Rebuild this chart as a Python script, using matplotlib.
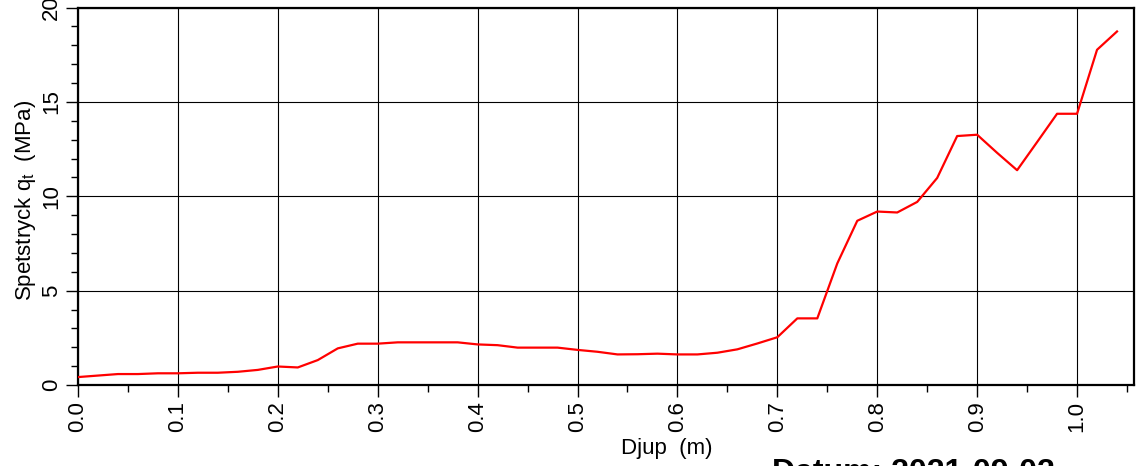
import matplotlib
matplotlib.use("Agg")
import matplotlib.pyplot as plt
from matplotlib.ticker import MultipleLocator, FormatStrFormatter

plt.rcParams['font.family'] = ['Liberation Sans', 'DejaVu Sans']
plt.rcParams['mathtext.fontset'] = 'custom'
plt.rcParams['mathtext.rm'] = 'Liberation Sans'

depth = [0.00, 0.02, 0.04, 0.06, 0.08, 0.10, 0.12, 0.14, 0.16, 0.18,
         0.20, 0.22, 0.24, 0.26, 0.28, 0.30, 0.32, 0.34, 0.36, 0.38,
         0.40, 0.42, 0.44, 0.46, 0.48, 0.50, 0.52, 0.54, 0.56, 0.58,
         0.60, 0.62, 0.64, 0.66, 0.68, 0.70, 0.72, 0.74, 0.76, 0.78,
         0.80, 0.82, 0.84, 0.86, 0.88, 0.90, 0.92, 0.94, 0.96, 0.98,
         1.00, 1.02, 1.04]
qt = [0.42, 0.50, 0.58, 0.58, 0.62, 0.62, 0.65, 0.65, 0.70, 0.80,
      0.98, 0.93, 1.32, 1.94, 2.19, 2.19, 2.26, 2.26, 2.26, 2.26,
      2.15, 2.11, 1.98, 1.98, 1.98, 1.86, 1.76, 1.62, 1.63, 1.66,
      1.62, 1.62, 1.71, 1.89, 2.20, 2.53, 3.53, 3.53, 6.44, 8.70,
      9.19, 9.14, 9.70, 10.97, 13.19, 13.26, 12.30, 11.38, 12.87, 14.37,
      14.37, 17.76, 18.73]

xticks = [0.0, 0.1, 0.2, 0.3, 0.4, 0.5, 0.6, 0.7, 0.8, 0.9, 1.0]
yticks = [0, 5, 10, 15, 20]

W, H = 1138, 466
fig = plt.figure(figsize=(W / 100, H / 100), dpi=100)
ax = fig.add_axes([78 / W, (H - 385) / H, (1134 - 78) / W, (385 - 7.5) / H])

ax.plot(depth, qt, color='#ff0000', lw=1.6, zorder=3)

ax.set_xlim(0, 1.057)
ax.set_ylim(0, 20)
ax.set_xticks(xticks)
ax.set_yticks(yticks)
ax.xaxis.set_major_formatter(FormatStrFormatter('%.1f'))
ax.xaxis.set_minor_locator(MultipleLocator(0.05))
ax.yaxis.set_minor_locator(MultipleLocator(1))
ax.grid(True, which='major', color='black', lw=0.8)

for s in ax.spines.values():
    s.set_linewidth(1.6)
    s.set_color('black')

ax.tick_params(axis='both', which='major', direction='out', length=8.5, width=1.0,
               labelsize=16)
ax.tick_params(axis='both', which='minor', direction='out', length=5, width=1.0)
ax.tick_params(axis='x', which='major', pad=3.0, labelrotation=90)
ax.tick_params(axis='y', which='major', pad=3.0)
for lab in ax.get_yticklabels():
    lab.set_rotation(90)
    lab.set_va('center')

ax.set_xlabel('Djup  (m)', fontsize=16)
ax.xaxis.set_label_coords((667 - 78) / (1134 - 78), -(454 - 385) / (385 - 7.5))
ax.xaxis.label.set_va('baseline')
ax.set_ylabel(r'Spetstryck q$_\mathregular{t}$  (MPa)', fontsize=16)
ax.yaxis.set_label_coords(-(78 - 38) / (1134 - 78), (385 - 200) / (385 - 7.5))

fig.text(772 / W, -15 / H, 'Datum: 2021-09-02', fontsize=23, fontweight='bold',
         ha='left', va='baseline')

fig.savefig('out.png', dpi=100)
